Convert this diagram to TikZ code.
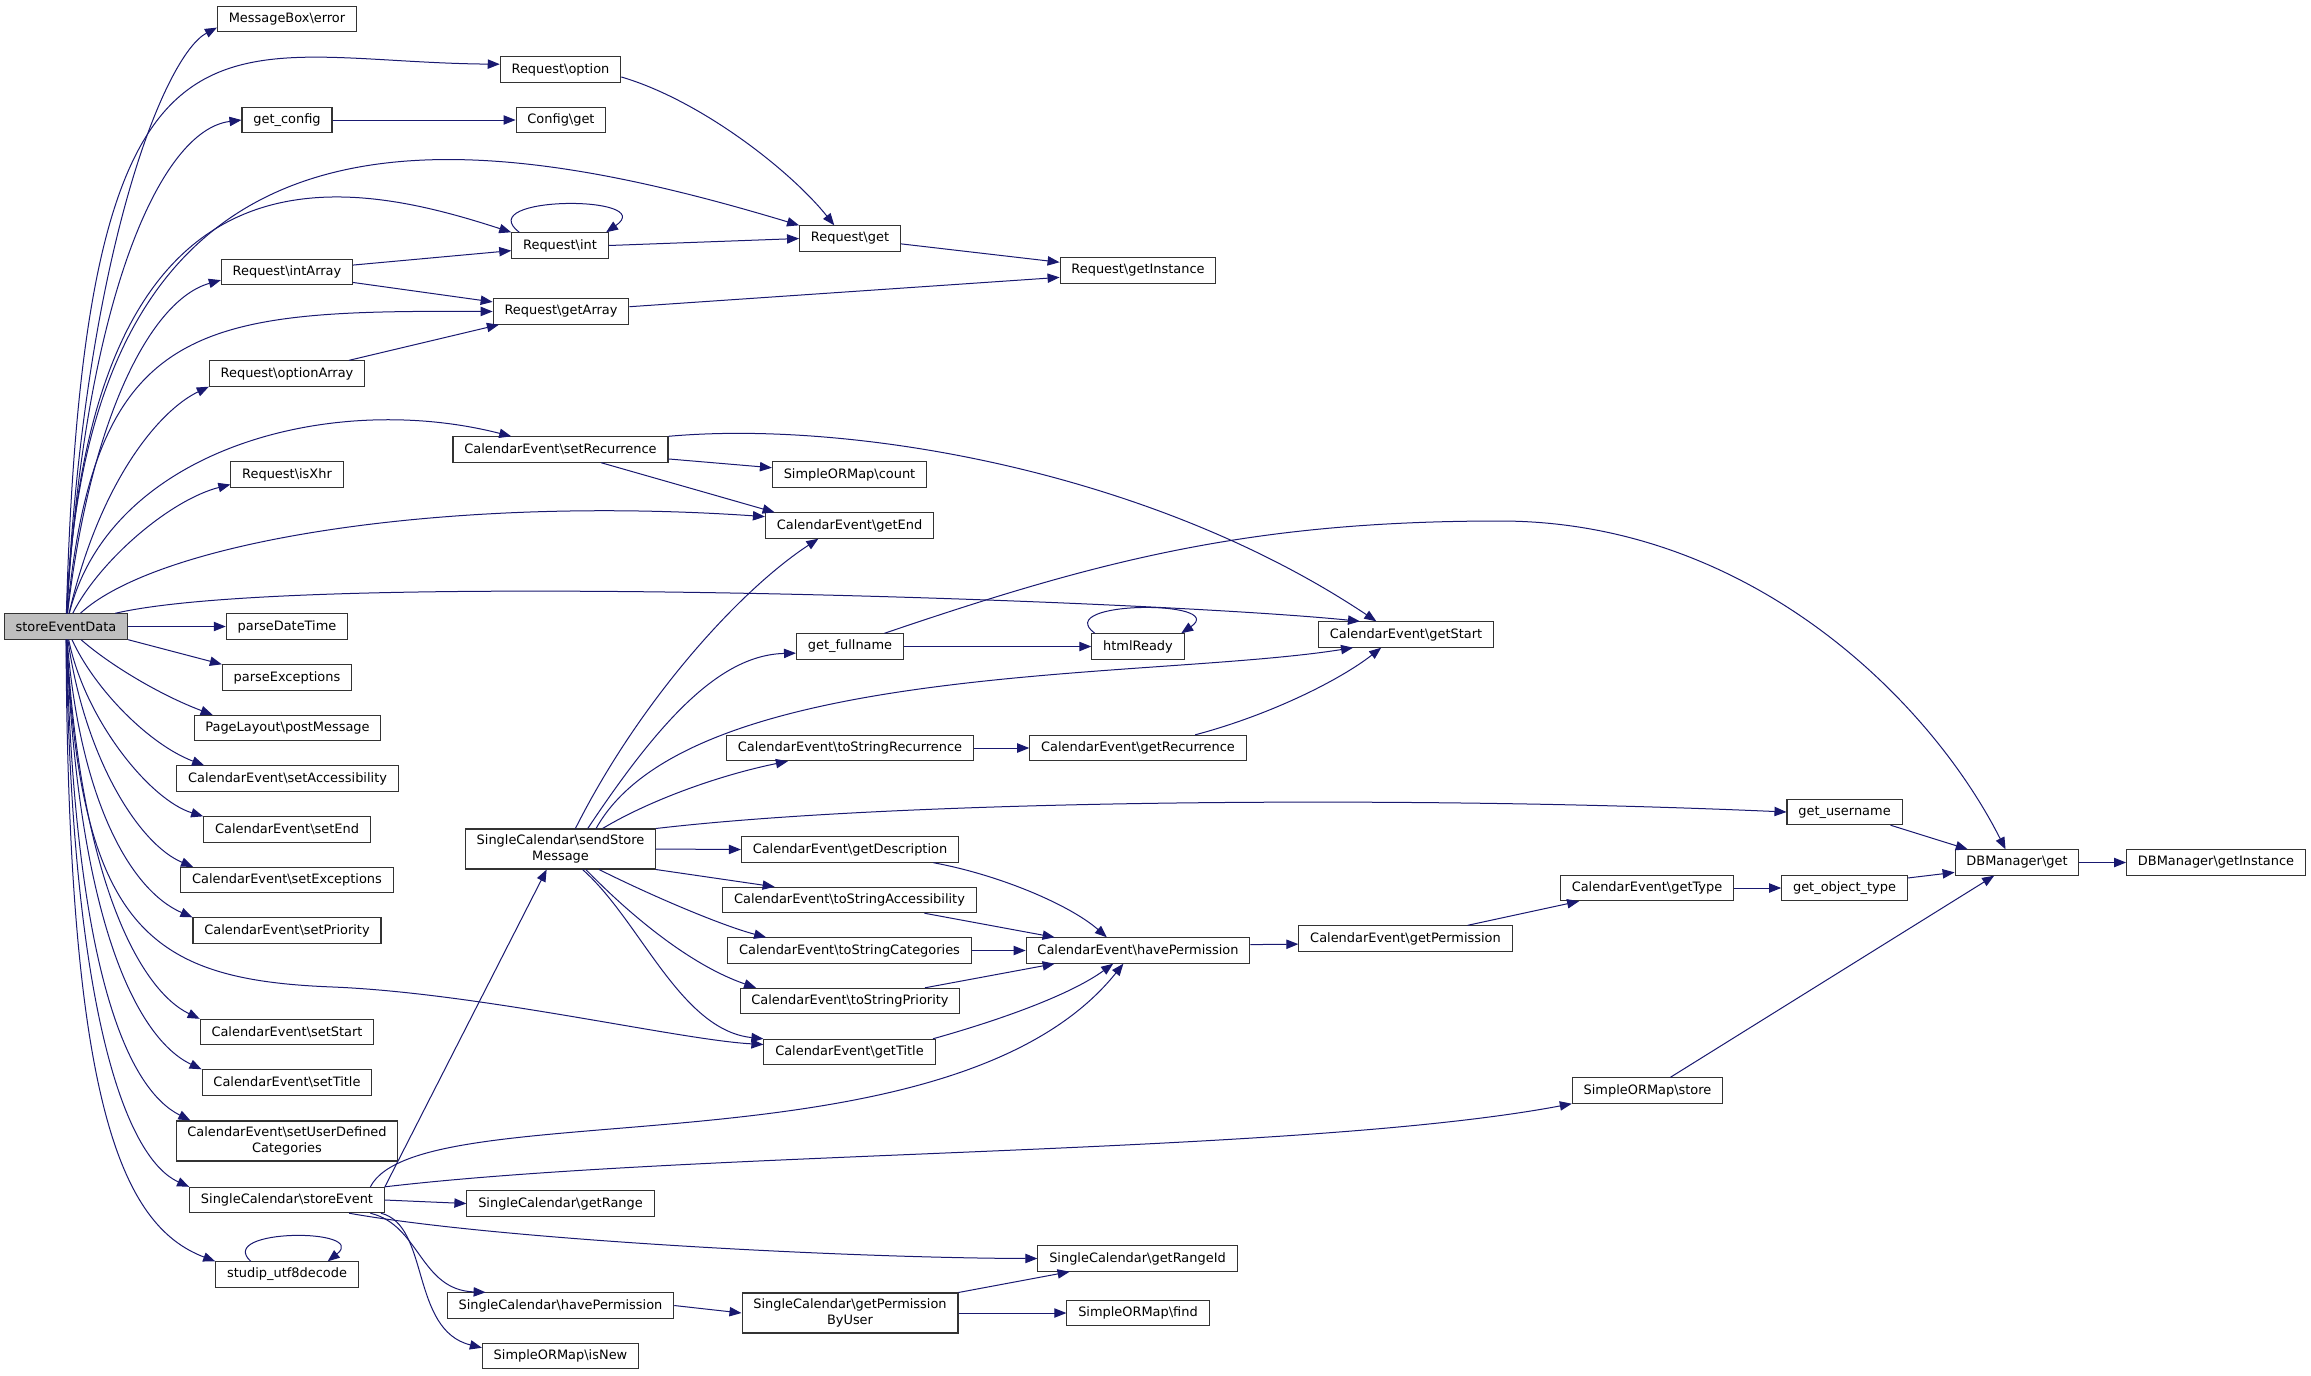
\documentclass[tikz,border=0pt]{standalone}
\usepackage{fontspec}
\setmainfont{DejaVu Sans}
\usetikzlibrary{arrows.meta}
\definecolor{callblue}{RGB}{25,25,112}
\newcommand{\bsl}{\textbackslash}

\begin{document}
\begin{tikzpicture}[x=0.75pt,y=-0.75pt,
	fn/.style={draw=black!80,fill=white,line width=0.8pt,inner xsep=8.5pt,inner ysep=0pt,
		minimum height=19pt,align=center,font=\fontsize{9.7}{12}\selectfont},
	fntwo/.style={fn,minimum height=30pt},
	root/.style={fn,fill=black!25},
	call/.style={draw=callblue,line width=0.75pt,-{Triangle[length=9pt,width=7pt]}}]

	\path[use as bounding box,fill=white] (0,0) rectangle (2311,1375);

	% caller
	\node[root]	(sED)		at (66,626.5)		{storeEventData};

	% first column
	\node[fn]	(MBerr)		at (287,19)		{MessageBox\bsl error};
	\node[fn]	(getcfg)	at (287,120)		{get\_config};
	\node[fn]	(ReqIntArr)	at (287,272)		{Request\bsl intArray};
	\node[fn]	(ReqOptArr)	at (287,373.5)		{Request\bsl optionArray};
	\node[fn]	(ReqXhr)	at (287,474.5)		{Request\bsl isXhr};
	\node[fn]	(parseDT)	at (287,626.5)		{parseDateTime};
	\node[fn]	(parseExc)	at (287,677.5)		{parseExceptions};
	\node[fn]	(PLpost)	at (287.5,728)		{PageLayout\bsl postMessage};
	\node[fn]	(CEsetAcc)	at (287.5,778.5)	{CalendarEvent\bsl setAccessibility};
	\node[fn]	(CEsetEnd)	at (287,829.5)		{CalendarEvent\bsl setEnd};
	\node[fn]	(CEsetExc)	at (287,880)		{CalendarEvent\bsl setExceptions};
	\node[fn]	(CEsetPrio)	at (287,930.5)		{CalendarEvent\bsl setPriority};
	\node[fn]	(CEsetStart)	at (287,1032)		{CalendarEvent\bsl setStart};
	\node[fn]	(CEsetTitle)	at (287,1082.5)		{CalendarEvent\bsl setTitle};
	\node[fntwo]	(CEsetUDC)	at (287,1141)		{CalendarEvent\bsl setUserDefined\\Categories};
	\node[fn]	(SCstore)	at (287,1200)		{SingleCalendar\bsl storeEvent};
	\node[fn]	(utfdec)	at (287,1274.5)		{studip\_utf8decode};

	% second column
	\node[fn]	(ReqOpt)	at (560.5,69.5)		{Request\bsl option};
	\node[fn]	(CfgGet)	at (561,120)		{Config\bsl get};
	\node[fn]	(ReqInt)	at (560,245.5)		{Request\bsl int};
	\node[fn]	(ReqGetArr)	at (561,311.5)		{Request\bsl getArray};
	\node[fn]	(CEsetRec)	at (560.5,449.5)	{CalendarEvent\bsl setRecurrence};
	\node[fntwo]	(SCsend)	at (560.5,849)		{SingleCalendar\bsl sendStore\\Message};
	\node[fn]	(SCrange)	at (560.5,1203.5)	{SingleCalendar\bsl getRange};
	\node[fn]	(SCperm)	at (560.5,1305.5)	{SingleCalendar\bsl havePermission};
	\node[fn]	(SOMisNew)	at (560.5,1356)		{SimpleORMap\bsl isNew};

	% third column
	\node[fn]	(ReqGet)	at (850,238.5)		{Request\bsl get};
	\node[fn]	(SOMcount)	at (849.5,474.5)	{SimpleORMap\bsl count};
	\node[fn]	(CEgetEnd)	at (849.5,525.5)	{CalendarEvent\bsl getEnd};
	\node[fn]	(fullname)	at (850,646.5)		{get\_fullname};
	\node[fn]	(CEtsRec)	at (850,748)		{CalendarEvent\bsl toStringRecurrence};
	\node[fn]	(CEgetDesc)	at (850,849.5)		{CalendarEvent\bsl getDescription};
	\node[fn]	(CEtsAcc)	at (849.5,900)		{CalendarEvent\bsl toStringAccessibility};
	\node[fn]	(CEtsCat)	at (849.5,950.5)	{CalendarEvent\bsl toStringCategories};
	\node[fn]	(CEtsPrio)	at (850,1001)		{CalendarEvent\bsl toStringPriority};
	\node[fn]	(CEgetTitle)	at (849.5,1052)		{CalendarEvent\bsl getTitle};
	\node[fntwo]	(SCpermUser)	at (850,1313)		{SingleCalendar\bsl getPermission\\ByUser};

	% fourth column
	\node[fn]	(ReqInst)	at (1138,270.5)		{Request\bsl getInstance};
	\node[fn]	(htmlRdy)	at (1138,646.5)		{htmlReady};
	\node[fn]	(CEgetRec)	at (1138,748)		{CalendarEvent\bsl getRecurrence};
	\node[fn]	(CEhavePerm)	at (1138,950.5)		{CalendarEvent\bsl havePermission};
	\node[fn]	(SCrangeId)	at (1137.5,1258.5)	{SingleCalendar\bsl getRangeId};
	\node[fn]	(SOMfind)	at (1138,1313)		{SimpleORMap\bsl find};

	% right part
	\node[fn]	(CEgetStart)	at (1406,634.5)		{CalendarEvent\bsl getStart};
	\node[fn]	(CEgetPerm)	at (1405.5,938.5)	{CalendarEvent\bsl getPermission};
	\node[fn]	(CEgetType)	at (1647,888)		{CalendarEvent\bsl getType};
	\node[fn]	(SOMstore)	at (1647.5,1090.5)	{SimpleORMap\bsl store};
	\node[fn]	(username)	at (1844.5,812)		{get\_username};
	\node[fn]	(objtype)	at (1844.5,888)		{get\_object\_type};
	\node[fn]	(DBget)		at (2017,862.5)		{DBManager\bsl get};
	\node[fn]	(DBinst)	at (2216,862.5)		{DBManager\bsl getInstance};

	% calls of storeEventData, upwards
	\draw[call] (sED) .. controls (85,250) and (165,55) .. (MBerr.187);
	\draw[call] (sED) .. controls (85,-40) and (220,62) .. (ReqOpt.175);
	\draw[call] (sED) .. controls (85,300) and (160,130) .. (getcfg.west);
	\draw[call] (sED) .. controls (90,80) and (450,120) .. (ReqGet.north west);
	\draw[call] (sED) .. controls (90,120) and (350,180) .. (ReqInt.north west);
	\draw[call] (sED) .. controls (90,420) and (150,300) .. (ReqIntArr.187);
	\draw[call] (sED) .. controls (95,320) and (200,310) .. (ReqGetArr.west);
	\draw[call] (sED) .. controls (100,480) and (160,410) .. (ReqOptArr.south west);
	\draw[call] (sED) .. controls (110,450) and (330,390) .. (CEsetRec.165);
	\draw[call] (sED) .. controls (100,560) and (170,500) .. (ReqXhr.190);
	\draw[call] (sED) .. controls (160,540) and (450,495) .. (CEgetEnd.174);
	\draw[call] (sED.15) .. controls (300,570) and (1150,600) .. (CEgetStart.164);

	% calls of storeEventData, downwards
	\draw[call] (sED.east) -- (parseDT.west);
	\draw[call] (sED.south east) -- (parseExc.north west);
	\draw[call] (sED) .. controls (110,665) and (160,695) .. (PLpost.170);
	\draw[call] (sED) .. controls (95,690) and (150,745) .. (CEsetAcc.171);
	\draw[call] (sED) .. controls (85,720) and (150,800) .. (CEsetEnd.north west);
	\draw[call] (sED) .. controls (85,760) and (140,845) .. (CEsetExc.172);
	\draw[call] (sED) .. controls (80,800) and (130,890) .. (CEsetPrio.north west);
	\draw[call] (sED) .. controls (80,880) and (140,990) .. (CEsetStart.north west);
	\draw[call] (sED) .. controls (78,930) and (140,1040) .. (CEsetTitle.north west);
	\draw[call] (sED) .. controls (75,980) and (130,1090) .. (CEsetUDC.168);
	\draw[call] (sED) .. controls (72,1030) and (130,1160) .. (SCstore.north west);
	\draw[call] (sED) .. controls (68,1100) and (120,1225) .. (utfdec.north west);
	\draw[call] (sED) .. controls (80,930) and (150,980) .. (333,987)
		.. controls (480,993) and (680,1040) .. (CEgetTitle.175);

	% Request
	\draw[call] (ReqOpt.353) .. controls (700,100) and (790,170) .. (ReqGet.140);
	\draw[call] (getcfg) -- (CfgGet);
	\draw[call] (ReqInt.162) .. controls (470,195) and (660,195) .. (ReqInt.16);
	\draw[call] (ReqInt.east) -- (ReqGet.west);
	\draw[call] (ReqIntArr.6) -- (ReqInt.186);
	\draw[call] (ReqIntArr.351) -- (ReqGetArr.172);
	\draw[call] (ReqOptArr.12) -- (ReqGetArr.192);
	\draw[call] (ReqGet.354) -- (ReqInst.174);
	\draw[call] (ReqGetArr.4) -- (ReqInst.185);

	% setRecurrence
	\draw[call] (CEsetRec.355) -- (SOMcount.175);
	\draw[call] (CEsetRec.342) -- (CEgetEnd.170);
	\draw[call] (CEsetRec.north east) .. controls (850,420) and (1150,470) .. (CEgetStart.156);

	% storeEvent
	\draw[call] (SCstore.north east) -- (SCsend.236);
	\draw[call] (SCstore.9) .. controls (420,1090) and (950,1180) .. (CEhavePerm.222);
	\draw[call] (SCstore.north east) .. controls (700,1150) and (1300,1155) .. (SOMstore.south west);
	\draw[call] (SCstore.east) -- (SCrange.west);
	\draw[call] (SCstore.348) .. controls (500,1240) and (850,1258) .. (SCrangeId.west);
	\draw[call] (SCstore.351) .. controls (420,1225) and (420,1290) .. (SCperm.170);
	\draw[call] (SCstore.352) .. controls (430,1225) and (410,1330) .. (SOMisNew.174);
	\draw[call] (utfdec.160) .. controls (215,1228) and (370,1228) .. (utfdec.18);

	% sendStoreMessage
	\draw[call] (SCsend.54) .. controls (640,700) and (740,590) .. (CEgetEnd.203);
	\draw[call] (SCsend.37) .. controls (660,720) and (720,655) .. (fullname.187);
	\draw[call] (SCsend.30) .. controls (690,660) and (1150,680) .. (CEgetStart.194);
	\draw[call] (SCsend.26) .. controls (650,800) and (720,775) .. (CEtsRec.192);
	\draw[call] (SCsend.north east) .. controls (900,800) and (1400,795) .. (username.west);
	\draw[call] (SCsend.east) -- (CEgetDesc.west);
	\draw[call] (SCsend.south east) -- (CEtsAcc.170);
	\draw[call] (SCsend.332) .. controls (650,895) and (720,925) .. (CEtsCat.171);
	\draw[call] (SCsend.321) .. controls (630,915) and (690,965) .. (CEtsPrio.172);
	\draw[call] (SCsend.317) .. controls (640,920) and (680,1030) .. (CEgetTitle.north west);

	% getters
	\draw[call] (fullname) -- (htmlRdy);
	\draw[call] (fullname.21) .. controls (1100,560) and (1250,521) .. (1500,521)
		.. controls (1750,521) and (1930,700) .. (DBget.131);
	\draw[call] (htmlRdy.163) .. controls (1050,600) and (1230,600) .. (htmlRdy.17);
	\draw[call] (CEtsRec) -- (CEgetRec);
	\draw[call] (CEgetRec.13) .. controls (1270,715) and (1340,680) .. (CEgetStart.208);
	\draw[call] (CEgetDesc.351) .. controls (1000,875) and (1070,905) .. (CEhavePerm.157);
	\draw[call] (CEtsAcc.350) -- (CEhavePerm.171);
	\draw[call] (CEtsCat) -- (CEhavePerm);
	\draw[call] (CEtsPrio.10) -- (CEhavePerm.189);
	\draw[call] (CEgetTitle.9) .. controls (1000,1020) and (1070,995) .. (CEhavePerm.208);
	\draw[call] (CEhavePerm.3) -- (CEgetPerm.183);
	\draw[call] (CEgetPerm.12) -- (CEgetType.191);
	\draw[call] (CEgetType) -- (objtype);
	\draw[call] (objtype.9) -- (DBget.189);
	\draw[call] (username.344) -- (DBget.165);
	\draw[call] (SOMstore.30) -- (DBget.210);
	\draw[call] (DBget) -- (DBinst);

	% permissions of the calendar
	\draw[call] (SCperm.east) -- (SCpermUser.west);
	\draw[call] (SCpermUser.north east) -- (SCrangeId.191);
	\draw[call] (SCpermUser) -- (SOMfind);

\end{tikzpicture}
\end{document}
